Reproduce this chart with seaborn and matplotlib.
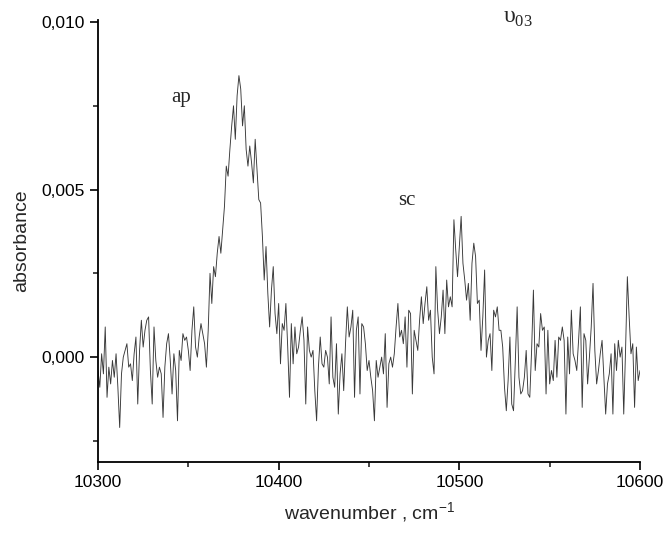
import numpy as np
import pandas as pd
import matplotlib
matplotlib.use("Agg")
import matplotlib.pyplot as plt
from matplotlib.ticker import FuncFormatter, MultipleLocator
import seaborn as sns

# absorbance values in units of 1e-4, one per cm^-1 starting at 10300
absorbance_e4 = [
    -4, -9, 1, -5, 9, -12, -3, -8, -1, -6,
    1, -9, -21, -5, 0, 2, 4, -3, -2, -7, 1, 6, -14, 2, 11, 3, 8, 11, 12, -4,
    -14, 9, -1, -6, -3, -5, -18, -3, 4, 7, -1,
    -11, 1, -4, -19, 2, -1, 7, 5, 6, 2,
    -4, 8, 15, 3, 0, 6, 10, 7, 4, -3,
    8, 25, 16, 27, 24, 31, 36, 31, 38, 45,
    57, 54, 62, 69, 75, 65, 78, 84, 80, 69,
    75, 62, 57, 63, 58, 52, 65, 56, 47, 46,
    36, 23, 33, 19, 9, 20, 27, 13, 7, 16,
    -2, 10, 8, 16, 3, -12, 10, -2, 9, 1,
    3, 8, 12, 5, -14, 9, 2,
    0, 2, -10, -19, -3, 6, -2, -3, 2, 0, -8, 12, -6, -9, 4, -17, -5, 1, -10, 4,
    15, 6, 9, 14, -12, 8,
    12, -11, 10, 9, 4, -4, -1, -6, -10, -19, -1, -6, -3, 0, -5, 7, -15, -2, 0, -3,
    1, 9, 16,
    6, 8, 4, 12, -3, 14, 13, -11,
    8, 5, 2, 11, 18, 10, 16, 21, 11, 14,
    0, -5, 27, 14, 7, 12, 20, 7, 23, 15,
    18, 15, 41, 32, 24, 33, 42, 28, 23, 17,
    22, 11, 28, 34, 30, 16, 17, 2, 12, 26,
    0, 5, 7, -4, 14, 12, 15, 8,
    8, 3, -9, -16, -7, 6, -14, -16, -1, 15,
    -6, -11, -10, -6, 2, -11, -12, 2, 20, -4,
    4, 3, 13, 8, 9, -11, 8, -8, -4, -7,
    5, -6, 6, 5, 9, 5, -17,
    6, -5, 14, 1, -1, -4, 5, 15, -15, 7,
    5, -8, 0, 9, 22, 2, -8, -4, 1, 5,
    -6, -17, -8, -5, 1, -17, 4, -4, 5, 0,
    3, -17, 2, 24,
    12, 1, 4, -15, 3, -7, -4,
]
wn_start = 10300
wavenumber = np.arange(wn_start, wn_start + len(absorbance_e4))
absorbance = np.array(absorbance_e4) * 1e-4

xticks = [10300, 10400, 10500, 10600]
yticks = [0.000, 0.005, 0.010]

df = pd.DataFrame({"wavenumber": wavenumber, "absorbance": absorbance})

sns.set_style("ticks")
plt.rcParams["font.family"] = ["Liberation Sans", "DejaVu Sans"]
plt.rcParams["mathtext.fontset"] = "custom"
plt.rcParams["mathtext.rm"] = "Liberation Serif"
plt.rcParams["mathtext.sf"] = "Liberation Sans"
plt.rcParams["axes.unicode_minus"] = False

fig = plt.figure(figsize=(6.7, 5.33), dpi=100)
ax = fig.add_axes([98/670, 1-462/533, (640-98)/670, (462-20)/533])

sns.lineplot(data=df, x="wavenumber", y="absorbance", ax=ax,
             color="#383838", linewidth=0.65)

ax.set_xlim(10300, 10600)
ax.set_ylim(-0.00313, 0.01006)
ax.set_xticks(xticks)
ax.set_yticks(yticks)
ax.xaxis.set_minor_locator(MultipleLocator(50))
ax.yaxis.set_minor_locator(MultipleLocator(0.0025))
ax.yaxis.set_major_formatter(FuncFormatter(lambda v, p: f"{v:.3f}".replace(".", ",").replace("-0,000", "0,000")))
ax.tick_params(axis="both", which="major", direction="out", length=6, width=1.2,
               labelsize=12.5, colors="black")
ax.tick_params(axis="both", which="minor", direction="out", length=3.5, width=1.2)
for s in ["left", "bottom"]:
    ax.spines[s].set_linewidth(1.3)
    ax.spines[s].set_color("black")
sns.despine(ax=ax)

ax.set_xlabel(r"wavenumber , cm$^{\mathsf{-1}}$", fontsize=14, labelpad=7)
ax.set_ylabel("absorbance", fontsize=14, labelpad=8)

serif = ["Liberation Serif", "DejaVu Serif"]
ax.text(10346, 0.00775, "ap", fontsize=15, family=serif, ha="center", va="center")
ax.text(10471, 0.00468, "sc", fontsize=15, family=serif, ha="center", va="center")
fig.text(518/670, 1-18/533, r"$\mathrm{υ}_{\mathrm{03}}$", fontsize=17,
         ha="center", va="center")

fig.savefig("out.png", dpi=100)
